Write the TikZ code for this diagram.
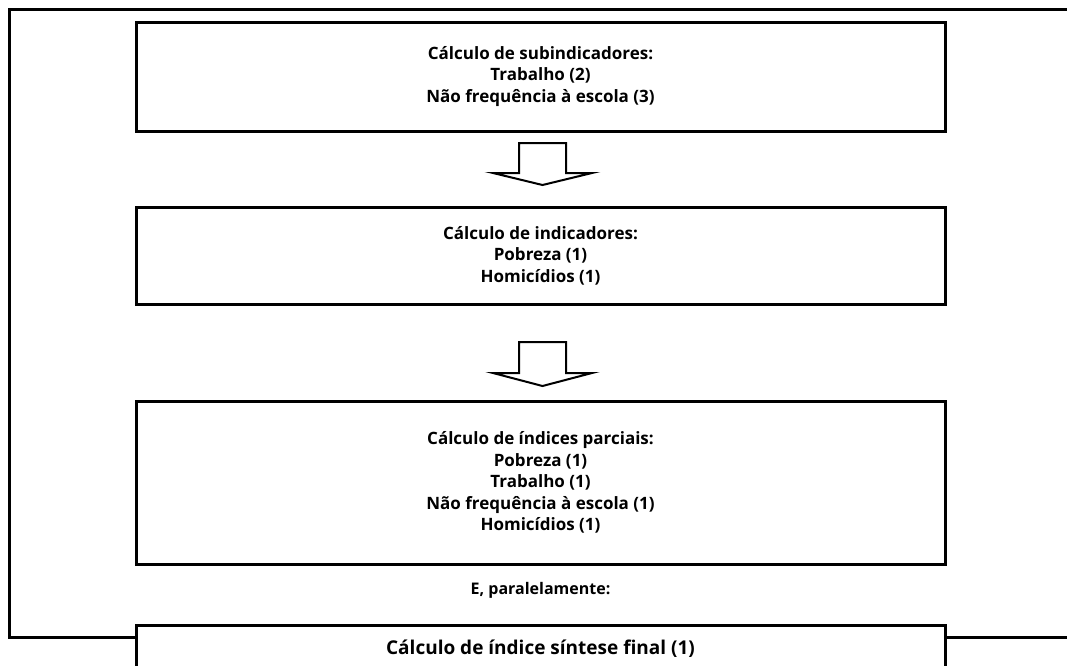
\documentclass[tikz,border=0pt]{standalone}
\usepackage{fontspec}
\setmainfont{Open Sans}
\begin{document}
\begin{tikzpicture}[x=1pt, y=-1pt, line width=3pt,
    every node/.style={font=\bfseries\fontsize{17}{21.5}\selectfont, align=center, inner sep=0pt},
    stepbox/.style={draw, minimum width=809pt},
    blockarrow/.style={draw, line width=2pt, line join=miter}]
  \useasboundingbox (0,0) rectangle (1067,665);
  % boxes
  \node[stepbox, minimum height=109pt] (sub) at (540.5,76.5)
    {Cálculo de subindicadores:\\Trabalho (2)\\Não frequência à escola (3)};
  \node[stepbox, minimum height=97pt] (ind) at (540.5,255.5)
    {Cálculo de indicadores:\\Pobreza (1)\\Homicídios (1)};
  \node[stepbox, minimum height=163pt] (parc) at (540.5,482.5)
    {Cálculo de índices parciais:\\Pobreza (1)\\Trabalho (1)\\Não frequência à escola (1)\\Homicídios (1)};
  \node[font=\bfseries\fontsize{16}{20}\selectfont] (par) at (540.5,590) {E, paralelamente:};
  \node[stepbox, minimum height=46pt, anchor=north, font=\bfseries\fontsize{19}{23}\selectfont] (final) at (540.5,624)
    {Cálculo de índice síntese final (1)};
  % outer frame
  \coordinate (topright) at (1067,9);
  \coordinate (corner) at (9,637);
  \coordinate (botright) at (1067,637);
  \draw (topright) -| (corner) -- (final.west |- corner);
  \draw (final.east |- botright) -- (botright);
  % arrows
  \draw[blockarrow] (519,173) -- (519,143) -- (566,143) -- (566,173) -- (592,173)
    -- (542.5,185) -- (493,173) -- cycle;
  \draw[blockarrow] (519,373) -- (519,342) -- (566,342) -- (566,373) -- (592,373)
    -- (542.5,386) -- (493,373) -- cycle;
\end{tikzpicture}
\end{document}
